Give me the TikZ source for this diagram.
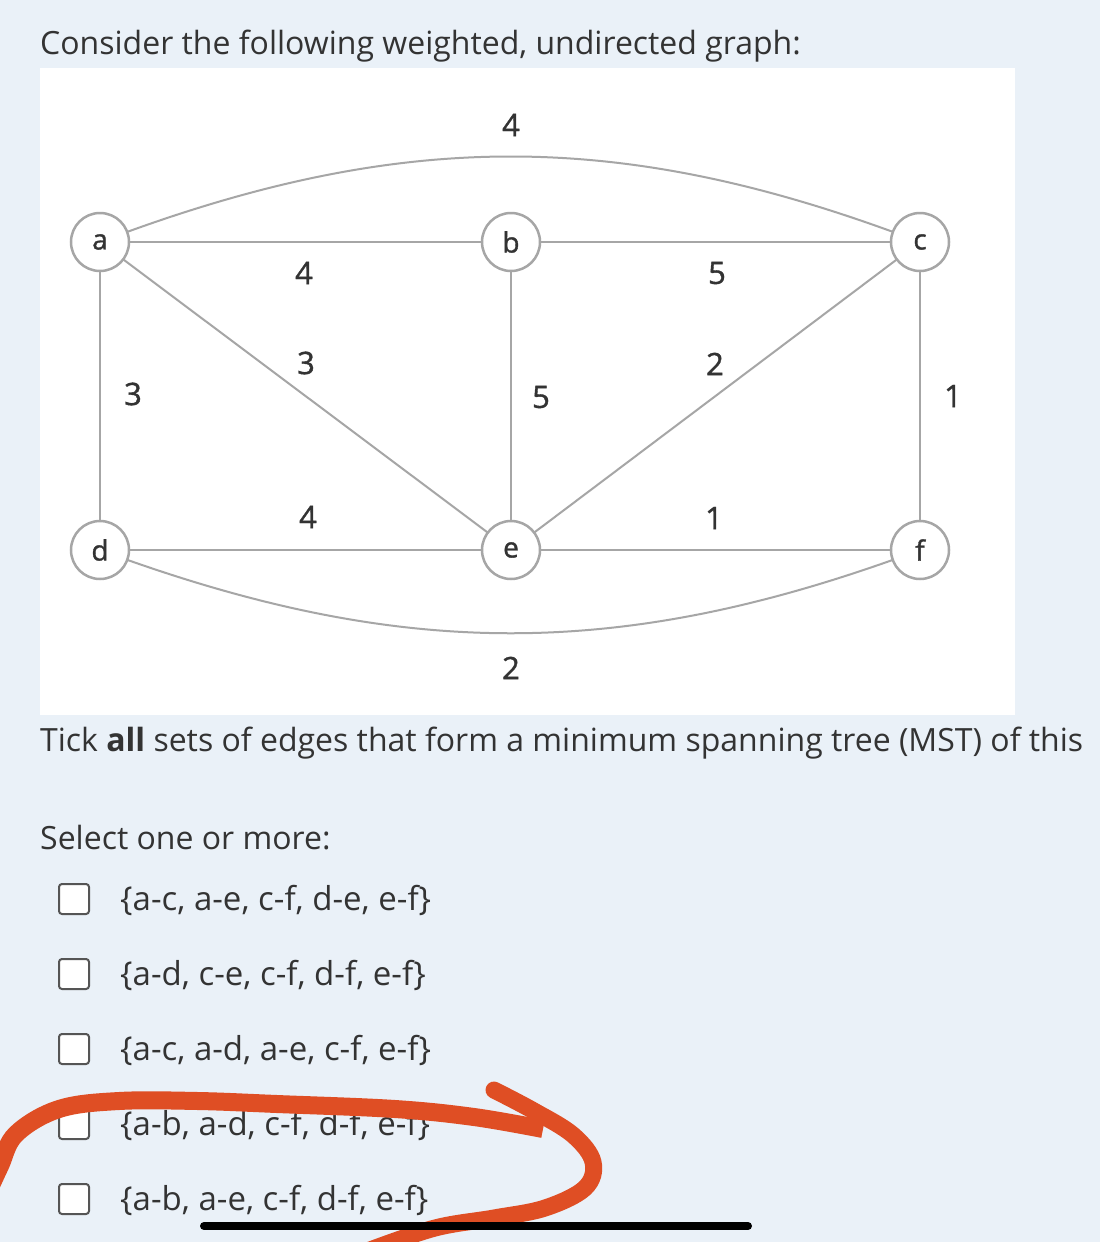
\documentclass[tikz,border=0pt]{standalone}
\usepackage{fontspec}
\setmainfont{Open Sans}
\newfontfamily\labelfont[FakeBold=1.2]{Open Sans}
\definecolor{bgblue}{HTML}{EAF1F8}
\definecolor{edgegray}{HTML}{A6A6A6}
\definecolor{textdark}{HTML}{333333}
\definecolor{boxgray}{HTML}{555555}
\definecolor{redmark}{HTML}{DF4E24}
\begin{document}
\begin{tikzpicture}[x=1pt,y=-1pt,
  vtx/.style={circle, draw=edgegray, line width=2.5pt, fill=white, minimum size=58pt, inner sep=0pt, font=\labelfont\fontsize{28}{28}\selectfont, text=textdark},
  wlabel/.style={font=\labelfont\fontsize{31}{31}\selectfont, text=textdark},
  gedge/.style={draw=edgegray, line width=2pt},
  bodytext/.style={anchor=base west, inner sep=0pt, font=\fontsize{32}{36}\selectfont, text=textdark},
  opttext/.style={anchor=base west, inner sep=0pt, font=\fontsize{33}{36}\selectfont, text=textdark},
  cbox/.style={draw=boxgray, line width=2pt, fill=white, rounded corners=3pt, minimum size=30pt, inner sep=0pt}]
\useasboundingbox (0,0) rectangle (1100,1242);
\fill[bgblue] (0,0) rectangle (1100,1242);
\fill[white] (40,68) rectangle (1015,715);

\node[bodytext] (title) at (40,54) {Consider the following weighted, undirected graph:};

% edges (drawn between vertex centres, vertices drawn on top)
\coordinate (pa) at (100,242);
\coordinate (pb) at (511,242);
\coordinate (pc) at (920,242);
\coordinate (pd) at (100,550);
\coordinate (pe) at (511,550);
\coordinate (pf) at (920,550);
\draw[gedge] (pa) .. controls (400,128) and (622,128) .. (pc);
\draw[gedge] (pd) .. controls (400,661) and (622,661) .. (pf);
\draw[gedge] (pa) -- (pb);
\draw[gedge] (pb) -- (pc);
\draw[gedge] (pa) -- (pd);
\draw[gedge] (pa) -- (pe);
\draw[gedge] (pb) -- (pe);
\draw[gedge] (pc) -- (pe);
\draw[gedge] (pc) -- (pf);
\draw[gedge] (pd) -- (pe);
\draw[gedge] (pe) -- (pf);

% vertices
\node[vtx] (a) at (pa) {a};
\node[vtx] (b) at (pb) {b};
\node[vtx] (c) at (pc) {c};
\node[vtx] (d) at (pd) {d};
\node[vtx] (e) at (pe) {e};
\node[vtx] (f) at (pf) {f};

% weights
\node[wlabel] (wac) at (511,125) {4};
\node[wlabel] (wab) at (304,273) {4};
\node[wlabel] (wbc) at (717,273) {5};
\node[wlabel] (wae) at (306,363) {3};
\node[wlabel] (wce) at (715,364) {2};
\node[wlabel] (wad) at (133,394) {3};
\node[wlabel] (wbe) at (541,397) {5};
\node[wlabel] (wcf) at (953,396) {1};
\node[wlabel] (wde) at (308,517) {4};
\node[wlabel] (wef) at (714,518) {1};
\node[wlabel] (wdf) at (511,668) {2};

\node[bodytext] (tick) at (40,751) {Tick \textbf{all} sets of edges that form a minimum spanning tree (MST) of this};
\node[bodytext] (select) at (40,849) {Select one or more:};

% options
\node[cbox] (cb1) at (74,899) {};
\node[cbox] (cb2) at (74,974) {};
\node[cbox] (cb3) at (74,1049) {};
\node[cbox] (cb4) at (74,1124) {};
\node[cbox] (cb5) at (74,1199) {};
\node[opttext] (o1) at (120,910) {\{a-c, a-e, c-f, d-e, e-f\}};
\node[opttext] (o2) at (120,985) {\{a-d, c-e, c-f, d-f, e-f\}};
\node[opttext] (o3) at (120,1060) {\{a-c, a-d, a-e, c-f, e-f\}};
\node[opttext] (o4) at (120,1135) {\{a-b, a-d, c-f, d-f, e-f\}};
\node[opttext] (o5) at (120,1210) {\{a-b, a-e, c-f, d-f, e-f\}};

% red annotation
\draw[redmark, line width=18pt, line cap=butt] plot[smooth, tension=0.6] coordinates {(-12,1192) (0,1166) (16,1134) (59,1109) (119,1101) (198,1101) (277,1104) (395,1109) (474,1117) (543,1129)};
\draw[redmark, line width=17pt, line cap=round] plot[smooth, tension=0.6] coordinates {(494,1090) (534,1111) (573,1135) (593,1162) (585,1188) (545,1208) (494,1218) (435,1228) (370,1250)};

% home indicator bar
\draw[black, line width=8pt, line cap=round] (204,1226) -- (748,1226);
\end{tikzpicture}
\end{document}
